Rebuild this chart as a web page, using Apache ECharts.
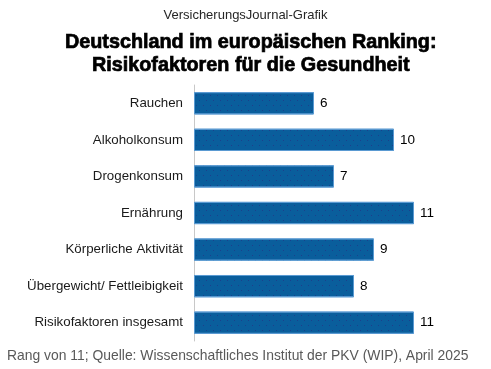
<!DOCTYPE html>
<html><head><meta charset="utf-8">
<script src="https://cdn.jsdelivr.net/npm/echarts@6/dist/echarts.min.js"></script>
<style>html,body{margin:0;padding:0;background:#fff}#c{width:491px;height:369px}</style>
</head><body><div id="c"></div>
<script>
const categories = ["Rauchen","Alkoholkonsum","Drogenkonsum","Ernährung","Körperliche Aktivität","Übergewicht/ Fettleibigkeit","Risikofaktoren insgesamt"];
const values = [6,10,7,11,9,8,11];
const chart = echarts.init(document.getElementById('c'), null, {renderer:'canvas'});
const titleStyle = {fontFamily:'Liberation Sans', fontSize:19.8, fontWeight:'bold', color:'#000', textBorderColor:'#000', textBorderWidth:0.7};
chart.setOption({
  animation:false,
  backgroundColor:'#ffffff',
  title:[
    {text:'VersicherungsJournal-Grafik', left:'center', top:4, textStyle:{fontFamily:'Liberation Sans', fontSize:13, fontWeight:'normal', color:'#262626'}},
    {text:'Deutschland im europäischen Ranking:', left:60, top:28, textStyle:titleStyle},
    {text:'Risikofaktoren für die Gesundheit', left:87, top:51, textStyle:titleStyle},
    {text:'Rang von 11; Quelle: Wissenschaftliches Institut der PKV (WIP), April 2025', left:2, top:344, textStyle:{fontFamily:'Liberation Sans', fontSize:13.9, fontWeight:'normal', color:'#595959'}}
  ],
  grid:{left:194, right:77, top:85, bottom:28, containLabel:false},
  xAxis:{type:'value', min:0, max:11, show:false},
  yAxis:{type:'category', data:categories, inverse:true,
    axisLine:{lineStyle:{color:'#c8c8c8'}},
    axisTick:{length:3, lineStyle:{color:'#c8c8c8'}},
    axisLabel:{fontFamily:'Liberation Sans', fontSize:13.3, color:'#1a1a1a', margin:11}
  },
  series:[{type:'bar', data:values, barWidth:'61%',
    itemStyle:{color:'#0a5e9c', borderColor:'#5a9ad2', borderWidth:1,
      decal:{symbol:'rect', symbolSize:1, dashArrayX:[[1,6],[0,3,1,3]], dashArrayY:[1,4], color:'#1c3f8c', rotation:0}},
    label:{show:true, position:'right', distance:6, fontFamily:'Liberation Sans', fontSize:13.5, color:'#000'}
  }]
});
</script></body></html>
